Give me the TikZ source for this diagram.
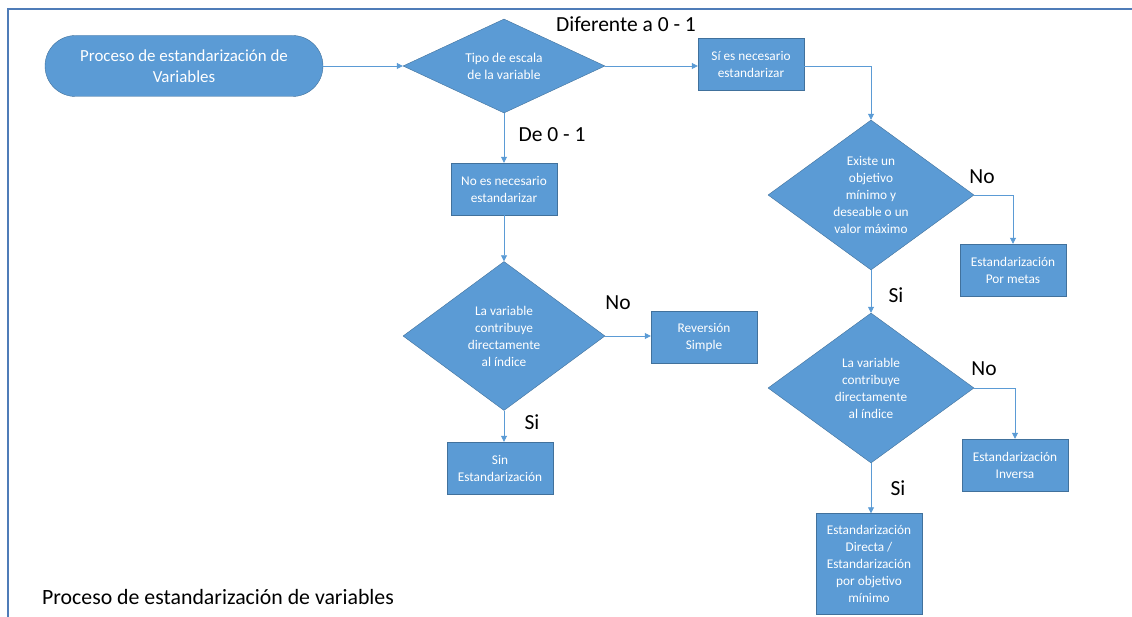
\documentclass[tikz,border=0pt]{standalone}
\usepackage{fontspec}
\setmainfont{Carlito}
\usepackage{tikz}
\usetikzlibrary{shapes.geometric, arrows.meta, positioning}
\definecolor{ofblue}{RGB}{91,155,213}
\definecolor{ofedge}{RGB}{65,113,156}
\definecolor{frameblue}{RGB}{79,124,184}
\tikzset{
    proc/.style={rectangle, draw=ofedge, fill=ofblue, text=white, align=center, minimum width=106pt, minimum height=52pt, inner sep=0pt, font=\fontsize{13.3}{17}\selectfont},
    decide/.style={diamond, draw=ofedge, fill=ofblue, text=white, align=center, inner sep=0pt, font=\fontsize{13.3}{17}\selectfont},
    term/.style={rectangle, rounded corners=30.5pt, draw=ofedge, fill=ofblue, text=white, align=center, minimum width=278pt, minimum height=61pt, inner sep=0pt, font=\fontsize{16.9}{21}\selectfont},
    flow/.style={draw=ofblue, line width=0.8pt, -{Triangle[length=6pt, width=6pt]}},
    answer/.style={font=\fontsize{21.5}{23}\selectfont, inner sep=0pt},
}
\begin{document}
\begin{tikzpicture}[x=1pt, y=-1pt]
    \useasboundingbox (0,0) rectangle (1132,617);
    \draw[frameblue, line width=1.2pt] (8,617) -- (8,9) -- (1132,9);

    \node[term] (start) at (184,66) {Proceso de estandarización de\\Variables};
    \node[decide, minimum width=202pt, minimum height=94pt, aspect=2.15, font=\fontsize{13.5}{17}\selectfont] (tipo) at (504,66) {Tipo de escala\\de la variable};
    \node[proc] (si) at (751,64) {Sí es necesario\\estandarizar};
    \node[proc] (nosi) at (504,189) {No es necesario\\estandarizar};
    \node[decide, minimum width=202pt, minimum height=149pt, aspect=1.36] (contA) at (504,336) {La variable\\contribuye\\directamente\\al índice};
    \node[proc] (rev) at (704,337) {Reversión\\Simple};
    \node[proc] (sinest) at (500,468) {Sin\\Estandarización};
    \node[decide, minimum width=206pt, minimum height=150pt, aspect=1.37] (obj) at (871,195) {Existe un\\objetivo\\mínimo y\\deseable o un\\valor máximo};
    \node[proc] (metas) at (1013,270) {Estandarización\\Por metas};
    \node[decide, minimum width=206pt, minimum height=150pt, aspect=1.37] (contB) at (871,388) {La variable\\contribuye\\directamente\\al índice};
    \node[proc] (inv) at (1015,465) {Estandarización\\Inversa};
    \node[proc, minimum height=101pt] (dir) at (869,564) {Estandarización\\Directa /\\Estandarización\\por objetivo\\mínimo};

    % etiquetas de las ramas
    \node[answer] (lbdif) at (626,24) {Diferente a 0 - 1};
    \node[answer] (lbde) at (552,135) {De 0 - 1};
    \node[answer] (lbnoA) at (618,303) {No};
    \node[answer] (lbsiA) at (532,422) {Si};
    \node[answer] (lbnoO) at (982,177) {No};
    \node[answer] (lbsiO) at (896,295) {Si};
    \node[answer] (lbnoB) at (984,369) {No};
    \node[answer] (lbsiB) at (898,488) {Si};

    \node[font=\fontsize{21.8}{23}\selectfont, anchor=west, inner sep=0pt] (caption) at (42,597) {Proceso de estandarización de variables};

    \draw[flow] (start.east) -- (tipo.west);
    \draw[flow] (tipo.east) -- (tipo.east -| si.west);
    \draw[flow] (si.east |- tipo.east) -| (obj.north);
    \draw[flow] (tipo.south) -- (nosi.north);
    \draw[flow] (nosi.south) -- (contA.north);
    \draw[flow] (contA.east) -- (contA.east -| rev.west);
    \draw[flow] (contA.south) -- (contA.south |- sinest.north);
    \draw[flow] (obj.east) -| (metas.north);
    \draw[flow] (obj.south) -- (contB.north);
    \draw[flow] (contB.east) -| (inv.north);
    \draw[flow] (contB.south) -- (contB.south |- dir.north);
\end{tikzpicture}
\end{document}
